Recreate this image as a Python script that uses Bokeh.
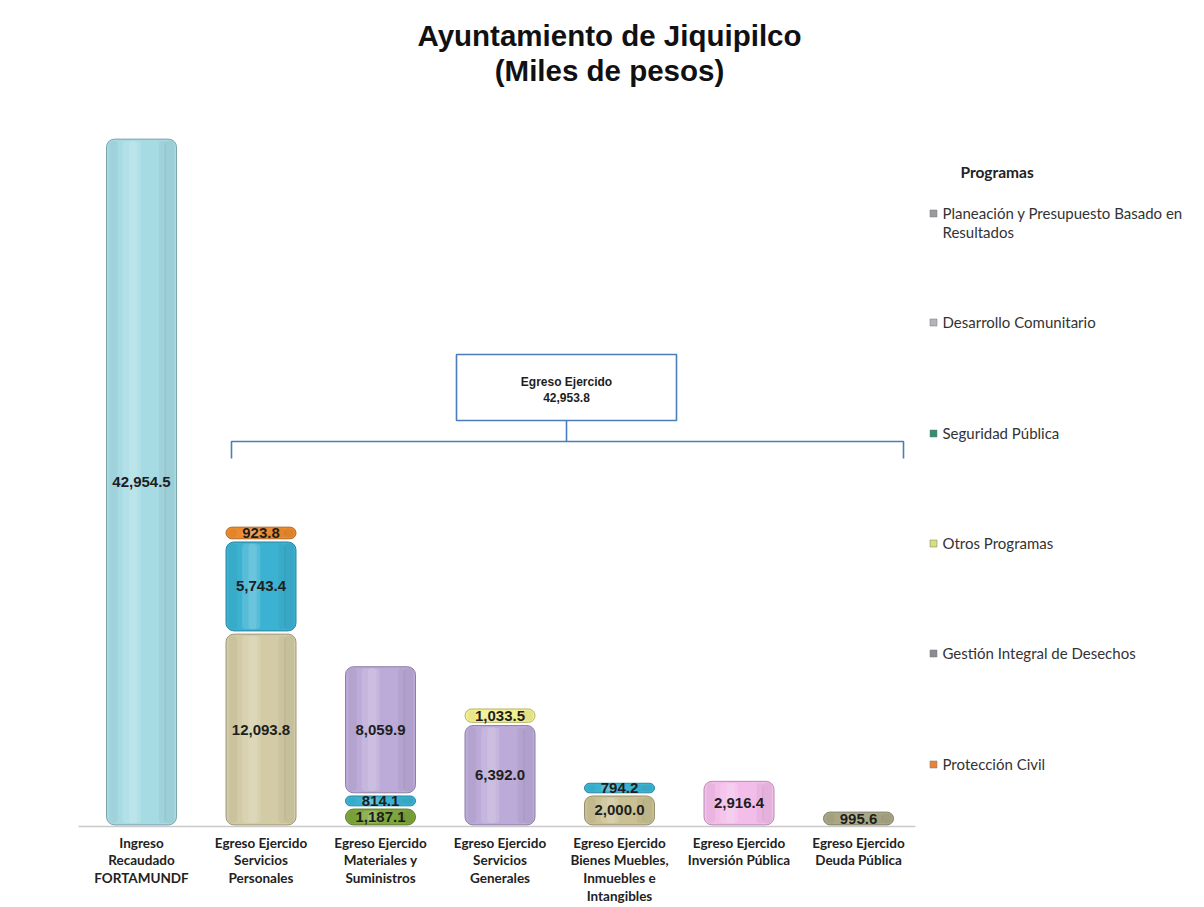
from bokeh.plotting import figure
from bokeh.models import Range1d
from bokeh.core.properties import value
from bokeh.embed import file_html
from bokeh.resources import INLINE

# ---------------- data ----------------
categories = [
    "Ingreso\nRecaudado\nFORTAMUNDF",
    "Egreso Ejercido\nServicios\nPersonales",
    "Egreso Ejercido\nMateriales y\nSuministros",
    "Egreso Ejercido\nServicios\nGenerales",
    "Egreso Ejercido\nBienes Muebles,\nInmuebles e\nIntangibles",
    "Egreso Ejercido\nInversión Pública",
    "Egreso Ejercido\nDeuda Pública",
]
# stacked segments, bottom to top within each category
seg_category = [0, 1, 1, 1, 2, 2, 2, 3, 3, 4, 4, 5, 6]
seg_values = [42954.5, 12093.8, 5743.4, 923.8, 1187.1, 814.1, 8059.9,
              6392.0, 1033.5, 2000.0, 794.2, 2916.4, 995.6]
seg_colors = ["#a6dbe4", "#d3cba5", "#3bb2d2", "#ec8a2e", "#7ea63c", "#3bb2d2", "#bcaad8",
              "#bcaad8", "#f2f08e", "#c9c193", "#3bb2d2", "#f3bdea", "#aaa786"]

programs = ["Planeación y Presupuesto Basado en\nResultados", "Desarrollo Comunitario",
            "Seguridad Pública", "Otros Programas", "Gestión Integral de Desechos",
            "Protección Civil"]
program_colors = ["#9a9aa0", "#b4b4ba", "#2f8f72", "#d6e07a", "#8c8c90", "#e8843a"]

title_lines = ["Ayuntamiento de Jiquipilco", "(Miles de pesos)"]
legend_title = "Programas"
bracket_label = "Egreso Ejercido"

# ---------------- layout helpers (image px -> data) ----------------
W, H = 1196, 905
PX_X = 119.5       # px per category
X0PX = 141         # image px of category 0 centre
PX_Y = 16.04       # px per 1000
Y0PX = 826         # image px of value 0


def dx(px):
    return (px - X0PX) / PX_X


def dy(py):
    return (Y0PX - py) / PX_Y * 1000.0


p = figure(width=W, height=H, output_backend="svg", toolbar_location=None,
           x_range=Range1d(dx(0), dx(W)), y_range=Range1d(dy(H), dy(0)),
           x_axis_location=None, y_axis_location=None, min_border=0)
p.grid.visible = False
p.outline_line_color = None
p.background_fill_color = "white"
p.border_fill_color = "white"


def darker(hx, f=0.75):
    r, g, b = int(hx[1:3], 16), int(hx[3:5], 16), int(hx[5:7], 16)
    return "#%02x%02x%02x" % (int(r * f), int(g * f), int(b * f))


# baseline
p.line([dx(78), dx(915)], [0, 0], line_color="#c9c9c9", line_width=1.5)

# ---------------- stacked cylinders ----------------
bar_w = 70 / PX_X
gap = 1.6 / PX_Y * 1000
stack_top = [0.0] * len(categories)
xs, bots, tops, cols, lcols, mids, labels = [], [], [], [], [], [], []
for c, v, col in zip(seg_category, seg_values, seg_colors):
    b = stack_top[c]
    t = b + v
    stack_top[c] = t
    xs.append(c)
    bots.append(b + gap)
    tops.append(t - gap)
    cols.append(col)
    lcols.append(darker(col))
    mids.append((b + t) / 2)
    labels.append(f"{v:,.1f}")

p.vbar(x=xs, width=bar_w, bottom=bots, top=tops, fill_color=cols, line_color=lcols,
       line_width=1, border_radius=8)
# soft shading for cylinder look
for off, wf, col, a in [(0.40, 0.14, "black", 0.06), (0.30, 0.10, "black", 0.04),
                        (-0.40, 0.12, "black", 0.04),
                        (-0.14, 0.26, "white", 0.14), (-0.12, 0.12, "white", 0.12)]:
    p.vbar(x=[x + bar_w * off for x in xs], width=bar_w * wf,
           bottom=[b + gap for b in bots], top=[t - gap for t in tops],
           fill_color=col, fill_alpha=a, line_color=None, border_radius=4)

p.text(x=xs, y=mids, text=labels, text_align="center", text_baseline="middle",
       text_font=value("Liberation Sans"), text_font_style="bold", text_font_size="15px",
       text_color="#1e1e1e")

# ---------------- category labels ----------------
p.text(x=list(range(len(categories))), y=[dy(834)] * len(categories), text=categories,
       text_align="center", text_baseline="top", text_font=value("Lato"),
       text_font_style="bold", text_font_size="13.5px", text_color="#222222",
       text_line_height=1.12)

# ---------------- title ----------------
p.text(x=[dx(609), dx(609)], y=[dy(35), dy(70)], text=title_lines, text_align="center",
       text_baseline="middle", text_font=value("Liberation Sans"), text_font_style="bold",
       text_font_size="29.5px", text_color="#111111")

# ---------------- bracket ----------------
bc = "#4a7ebb"
p.quad(left=[dx(456)], right=[dx(676)], top=[dy(354)], bottom=[dy(420)],
       fill_color="white", line_color=bc, line_width=1.6)
egreso_total = sum(seg_values[1:])
p.text(x=[dx(566), dx(566)], y=[dy(381), dy(397)],
       text=[bracket_label, f"{egreso_total:,.1f}"], text_align="center",
       text_baseline="middle", text_font=value("Liberation Sans"), text_font_style="bold",
       text_font_size="12px", text_color="#1e1e1e")
p.line([dx(566), dx(566)], [dy(420), dy(441)], line_color=bc, line_width=1.6)
p.line([dx(231), dx(231), dx(903), dx(903)], [dy(458), dy(441), dy(441), dy(458)],
       line_color=bc, line_width=1.6)

# ---------------- legend ----------------
p.text(x=[dx(960)], y=[dy(171)], text=[legend_title], text_align="left",
       text_baseline="middle", text_font=value("Lato"), text_font_style="bold",
       text_font_size="15.5px", text_color="#222222")
leg_y = [213, 322, 433, 543, 653, 764]
p.scatter(x=[dx(933)] * len(programs), y=[dy(v) for v in leg_y], marker="square", size=7,
          fill_color=program_colors, line_color="#777777", line_width=0.5)
p.text(x=[dx(942)] * len(programs), y=[dy(v - 10) for v in leg_y], text=programs,
       text_align="left", text_baseline="top", text_font=value("Lato"),
       text_font_size="15px", text_color="#333333", text_line_height=1.1)

open("out.html", "w").write(file_html(p, INLINE))
